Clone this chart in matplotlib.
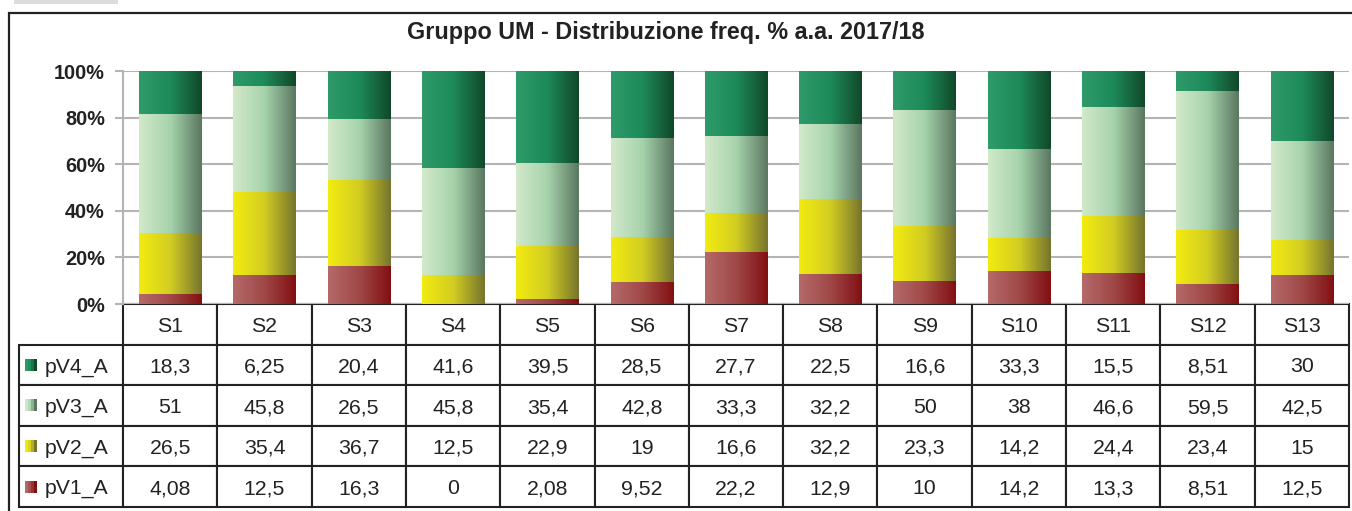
import numpy as np
import matplotlib
matplotlib.use('Agg')
import matplotlib.pyplot as plt
from matplotlib.colors import LinearSegmentedColormap
from matplotlib.patches import Rectangle

plt.rcParams['font.family'] = ['Liberation Sans', 'DejaVu Sans']

# ── データ ───────────────────────────────────────────────
TITLE = 'Gruppo UM - Distribuzione freq. % a.a. 2017/18'
cats = ['S1', 'S2', 'S3', 'S4', 'S5', 'S6', 'S7', 'S8', 'S9', 'S10', 'S11', 'S12', 'S13']
pV4_A = [18.3, 6.25, 20.4, 41.6, 39.5, 28.5, 27.7, 22.5, 16.6, 33.3, 15.5, 8.51, 30]
pV3_A = [51, 45.8, 26.5, 45.8, 35.4, 42.8, 33.3, 32.2, 50, 38, 46.6, 59.5, 42.5]
pV2_A = [26.5, 35.4, 36.7, 12.5, 22.9, 19, 16.6, 32.2, 23.3, 14.2, 24.4, 23.4, 15]
pV1_A = [4.08, 12.5, 16.3, 0, 2.08, 9.52, 22.2, 12.9, 10, 14.2, 13.3, 8.51, 12.5]
series_names = ['pV1_A', 'pV2_A', 'pV3_A', 'pV4_A']          # 下から積み上げ
series_vals = [pV1_A, pV2_A, pV3_A, pV4_A]
yticks = [0, 20, 40, 60, 80, 100]

# 横方向グラデーション (左=明, 右=暗)
grads = {
    'pV1_A': ['#b56a6a', '#a04848', '#820f12'],
    'pV2_A': ['#f2ec10', '#d2cd22', '#76742e'],
    'pV3_A': ['#d2e9ca', '#a6d3ac', '#5a7760'],
    'pV4_A': ['#2f9b6a', '#1d8a5a', '#114829'],
}
cmaps = {k: LinearSegmentedColormap.from_list(k, v) for k, v in grads.items()}

W, H = 1352, 511
fig = plt.figure(figsize=(W / 100, H / 100), dpi=100)

# 外枠・左上のグレー帯
fig.patches.append(Rectangle((9 / W, -0.05), 1.2, 1 - 13 / H + 0.05,
                             transform=fig.transFigure, fill=False,
                             lw=1.6, ec='#222222'))
fig.patches.append(Rectangle((14 / W, 1 - 4 / H), 104 / W, 4 / H,
                             transform=fig.transFigure, color='#dcdcdc', lw=0))
fig.text(666 / W, 1 - 33 / H, TITLE, ha='center', va='center',
         fontsize=16.8, fontweight='bold', color='#222222')

ax_l, ax_r, ax_t, ax_b = 123, 1349, 71, 304
ax = fig.add_axes([ax_l / W, 1 - ax_b / H, (ax_r - ax_l) / W, (ax_b - ax_t) / H])

# ── 100% 積み上げ棒 (グラデーション) ─────────────────────
totals = np.sum(series_vals, axis=0)
grad = np.linspace(0, 1, 256).reshape(1, -1)
bw = 0.66
bottom = np.zeros(len(cats))
for name, vals in zip(series_names, series_vals):
    pct = np.array(vals) / totals * 100
    for i, h in enumerate(pct):
        if h <= 0:
            continue
        ax.imshow(grad, cmap=cmaps[name], aspect='auto', interpolation='bilinear',
                  extent=[i - bw / 2, i + bw / 2, bottom[i], bottom[i] + h], zorder=3)
    bottom += pct

ax.set_xlim(-0.5, len(cats) - 0.5)
ax.set_ylim(0, 100)
ax.set_yticks(yticks)
ax.set_yticklabels([f'{t}%' for t in yticks], fontweight='bold', fontsize=14.3,
                   color='#222222')
ax.set_xticks([])
ax.yaxis.grid(True, color='#b4b4b4', lw=1.5)
ax.set_axisbelow(True)
ax.tick_params(axis='y', length=6, width=1.5, color='#b4b4b4', pad=7)
for s in ['top', 'right', 'bottom']:
    ax.spines[s].set_visible(False)
ax.spines['left'].set_color('#b4b4b4')
ax.spines['left'].set_linewidth(1.5)

# ── データテーブル ───────────────────────────────────────
ax_w = ax_r - ax_l
ax_h = ax_b - ax_t
lab_w = (ax_l - 19) / ax_w
col_w = 1.0 / len(cats)
tab_h = (507 - ax_b) / ax_h

def fmt(v):
    return f'{v:.3g}'.replace('.', ',')

rows = list(zip(series_names, series_vals))[::-1]           # 上から pV4 → pV1
cell_text = [[name] + [fmt(v) for v in vals] for name, vals in rows]
tab = ax.table(cellText=cell_text, colLabels=[''] + cats,
               colWidths=[lab_w] + [col_w] * len(cats),
               cellLoc='center',
               bbox=[-lab_w, -tab_h, 1 + lab_w, tab_h])
tab.auto_set_font_size(False)
tab.set_fontsize(15.3)
for (r, c), cell in tab.get_celld().items():
    cell.set_edgecolor('#222222')
    cell.set_linewidth(1.5)
    cell.get_text().set_color('#222222')
    cell.get_text().set_va('center_baseline')
    if r == 0 and c == 0:
        cell.visible_edges = ''
    if c == 0 and r > 0:
        cell._loc = 'left'
        cell.PAD = 0.25
        cell.get_text().set_ha('left')

# 凡例スウォッチ
n_rows = len(rows) + 1
row_h = tab_h / n_rows
sw_x0 = (25 - ax_l) / ax_w
sw_w = 12 / ax_w
sw_h = 12 / ax_h
for k, (name, _) in enumerate(rows):
    yc = -row_h * (k + 1.5)
    cols = cmaps[name](np.linspace(0.05, 1, 4))
    for j in range(4):
        ax.add_patch(Rectangle((sw_x0 + j * sw_w / 4, yc - sw_h / 2), sw_w / 4, sw_h,
                               transform=ax.transAxes, color=cols[j], lw=0,
                               clip_on=False, zorder=5))

fig.savefig('out.png', dpi=100)
